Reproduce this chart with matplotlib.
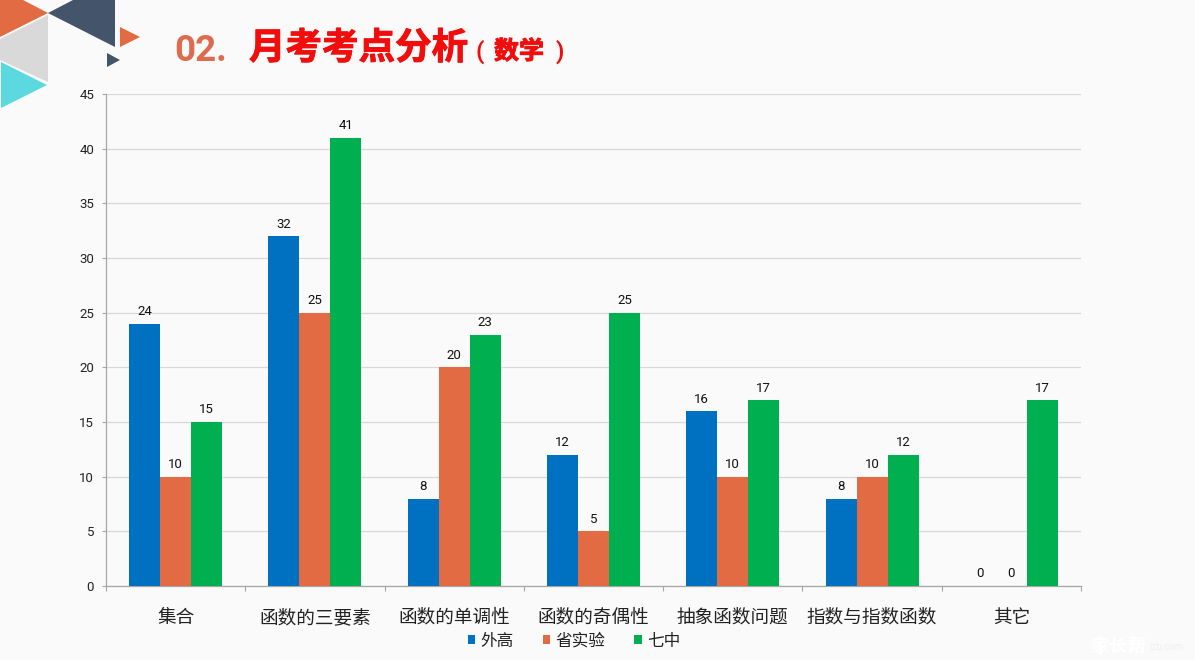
import numpy as np
import matplotlib
matplotlib.use("Agg")
import matplotlib.pyplot as plt
import matplotlib.patheffects as pe
from matplotlib.patches import Polygon

plt.rcParams['font.family'] = ['Roboto', 'Noto Sans CJK SC', 'DejaVu Sans']

categories = ["集合", "函数的三要素", "函数的单调性", "函数的奇偶性", "抽象函数问题", "指数与指数函数", "其它"]
waigao = [24, 32, 8, 12, 16, 8, 0]
shengshiyan = [10, 25, 20, 5, 10, 10, 0]
qizhong = [15, 41, 23, 25, 17, 12, 17]
series_names = ["外高", "省实验", "七中"]
series_colors = ["#0070C0", "#E26B43", "#00B050"]
y_ticks = list(range(0, 50, 5))

bg_color = "#FAFAFA"
W, H = 1195, 660

fig = plt.figure(figsize=(W / 100, H / 100), dpi=100)
fig.patch.set_facecolor(bg_color)

# page decoration and heading, in pixel coordinates
deco = fig.add_axes([0, 0, 1, 1])
deco.set_xlim(0, W)
deco.set_ylim(H, 0)
deco.axis("off")

shapes = [
    ([(0, 0), (23, 0), (48, 13), (0, 37)], "#E26B43"),
    ([(0, 39), (48, 15), (48, 82), (0, 60)], "#D9D9D9"),
    ([(1, 62), (47, 85), (1, 108)], "#5CD9DF"),
    ([(48, 13), (73, 0), (115, 0), (115, 47)], "#44546A"),
    ([(120, 27), (140, 37), (120, 47)], "#E26B43"),
    ([(107, 53), (120, 60), (107, 67)], "#44546A"),
]
for pts, color in shapes:
    deco.add_patch(Polygon(pts, closed=True, facecolor=color, edgecolor="none"))

# the source heading is a heavier fake bold, a thin stroke gets close
heavy = [pe.withStroke(linewidth=0.7, foreground="#F20D0D")]
deco.text(174, 61, "02.", color="#DD6B4D", fontsize=26.5, fontweight="bold", va="baseline")
deco.text(249, 59, "月考考点分析", color="#F20D0D", fontsize=26.3, fontweight="bold", va="baseline", path_effects=heavy)
deco.text(476, 59, "(", color="#F20D0D", fontsize=17, fontweight="bold", va="baseline")
deco.text(494, 59, "数学", color="#F20D0D", fontsize=18, fontweight="bold", va="baseline", path_effects=heavy)
deco.text(556, 59, ")", color="#F20D0D", fontsize=17, fontweight="bold", va="baseline")
deco.text(1090, 652, "家长帮", color="#FFFFFF", fontsize=13.5, fontweight="bold", va="baseline")
deco.text(1149, 650, "jzb.com", color="#F0F0F0", fontsize=7, va="baseline")

# chart
ax = fig.add_axes([106 / W, (H - 586) / H, 975 / W, 492 / H])
ax.patch.set_alpha(0)

x = np.arange(len(categories))
bar_w = 0.2225
for offset, values, name, color in zip((-1, 0, 1), (waigao, shengshiyan, qizhong), series_names, series_colors):
    bars = ax.bar(x + offset * bar_w, values, bar_w, color=color, label=name, zorder=3)
    ax.bar_label(bars, padding=4, fontsize=9.5, color="#111111")

ax.set_xlim(-0.5, len(categories) - 0.5)
ax.set_ylim(0, 45)
ax.set_yticks(y_ticks)
ax.tick_params(axis="y", labelsize=9.5, length=3, width=0.8, color="#A6A6A6", labelcolor="#222222", pad=5.5)
ax.yaxis.grid(True, color="#D9D9D9", linewidth=0.9, zorder=0)
ax.set_axisbelow(True)

# ticks sit on category boundaries, labels in the middle
ax.set_xticks(np.arange(len(categories) + 1) - 0.5)
ax.set_xticklabels([])
ax.tick_params(axis="x", length=3.6, width=0.8, color="#A6A6A6")
ax.set_xticks(x, minor=True)
ax.set_xticklabels(categories, minor=True, fontsize=13.4, color="#222222")
ax.tick_params(axis="x", which="minor", length=0, pad=16.5)

for side in ("top", "right"):
    ax.spines[side].set_visible(False)
for side in ("left", "bottom"):
    ax.spines[side].set_color("#A6A6A6")
    ax.spines[side].set_linewidth(0.9)

ax.legend(
    loc="center", bbox_to_anchor=(574 / W, (H - 641) / H), bbox_transform=fig.transFigure,
    ncol=3, frameon=False, fontsize=12, handlelength=0.45, handleheight=0.45,
    handletextpad=0.3, columnspacing=1.75, labelcolor="#222222",
)

fig.savefig("out.png", dpi=100, facecolor=fig.get_facecolor())
